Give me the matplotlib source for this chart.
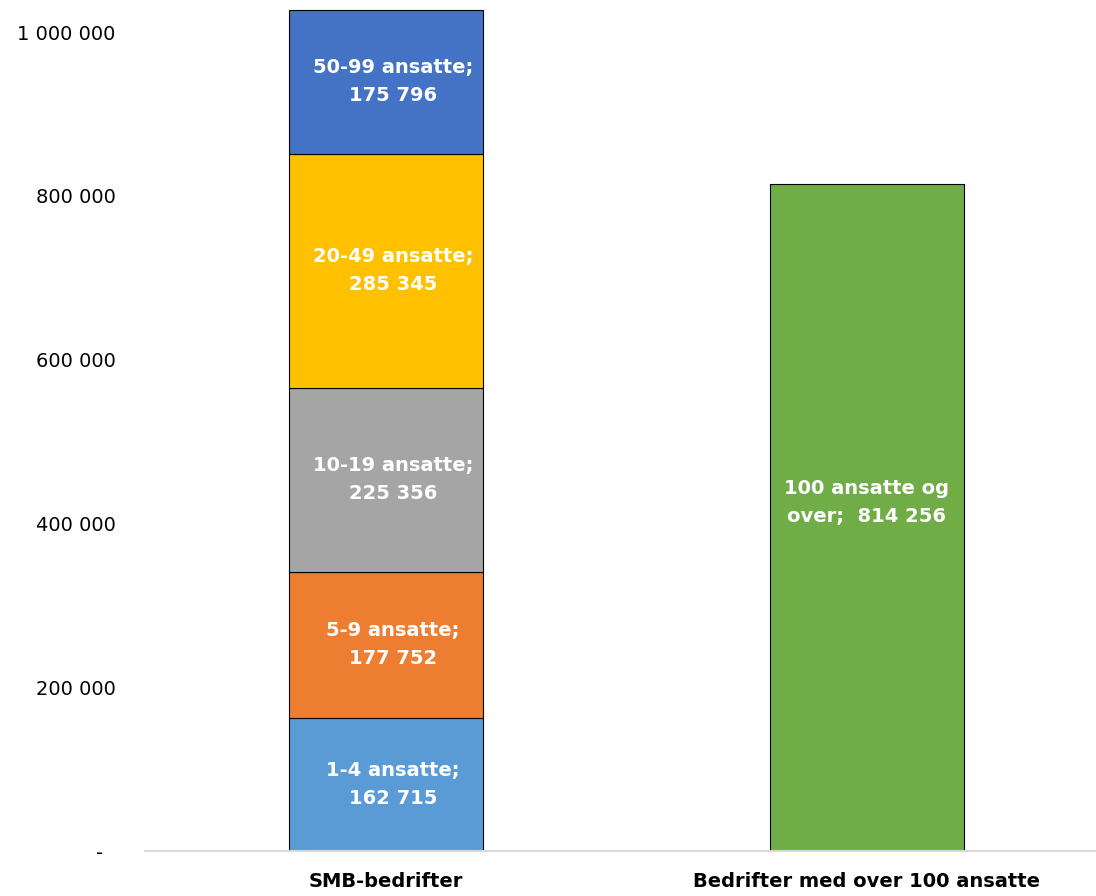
import numpy as np
import matplotlib.pyplot as plt

plt.rcParams['font.family'] = ['DejaVu Sans']

categories = ['SMB-bedrifter', 'Bedrifter med over 100 ansatte']
smb_groups = ['1-4 ansatte', '5-9 ansatte', '10-19 ansatte', '20-49 ansatte', '50-99 ansatte']
smb_values = [162715, 177752, 225356, 285345, 175796]
smb_colors = ['#5b9bd5', '#ed7d31', '#a5a5a5', '#ffc000', '#4472c4']
large_group = '100 ansatte og\nover'
large_value = 814256
large_color = '#70ad47'
yticks = [0, 200000, 400000, 600000, 800000, 1000000]
ytick_labels = ['-  ', '200 000', '400 000', '600 000', '800 000', '1 000 000']


def fmt(v):
    return f'{v:,}'.replace(',', ' ')


fig = plt.figure(figsize=(10.96, 8.96), dpi=100)
ax = fig.add_axes([145 / 1096, 1 - 851 / 896, 1 - 145 / 1096, 851 / 896])

width = 0.403
bottom = 0
for name, val, col in zip(smb_groups, smb_values, smb_colors):
    ax.bar(0, val, width, bottom=bottom, color=col, edgecolor='black', linewidth=0.8)
    ax.text(0.015, bottom + val / 2, f'{name};\n{fmt(val)}', ha='center', va='center',
            color='white', fontsize=14, fontweight='bold', linespacing=1.6)
    bottom += val

ax.bar(1, large_value, width, color=large_color, edgecolor='black', linewidth=0.8)
ax.text(1, large_value / 2 + 18000, f'{large_group};  {fmt(large_value)}', ha='center', va='center',
        color='white', fontsize=14, fontweight='bold', linespacing=1.6)

ax.set_xlim(-0.5, 1.476)
ax.set_ylim(0, 851 / 819 * 1e6)
ax.set_xticks([0, 1])
ax.set_xticklabels(categories, fontsize=14, fontweight='bold')
ax.set_yticks(yticks)
ax.set_yticklabels(ytick_labels, fontsize=14)
ax.tick_params(axis='both', length=0)
ax.tick_params(axis='x', pad=15)
ax.tick_params(axis='y', pad=21)
for s in ['top', 'right', 'left']:
    ax.spines[s].set_visible(False)
ax.spines['bottom'].set_color('#d9d9d9')
ax.spines['bottom'].set_linewidth(1.5)

fig.savefig('out.png', dpi=100)
